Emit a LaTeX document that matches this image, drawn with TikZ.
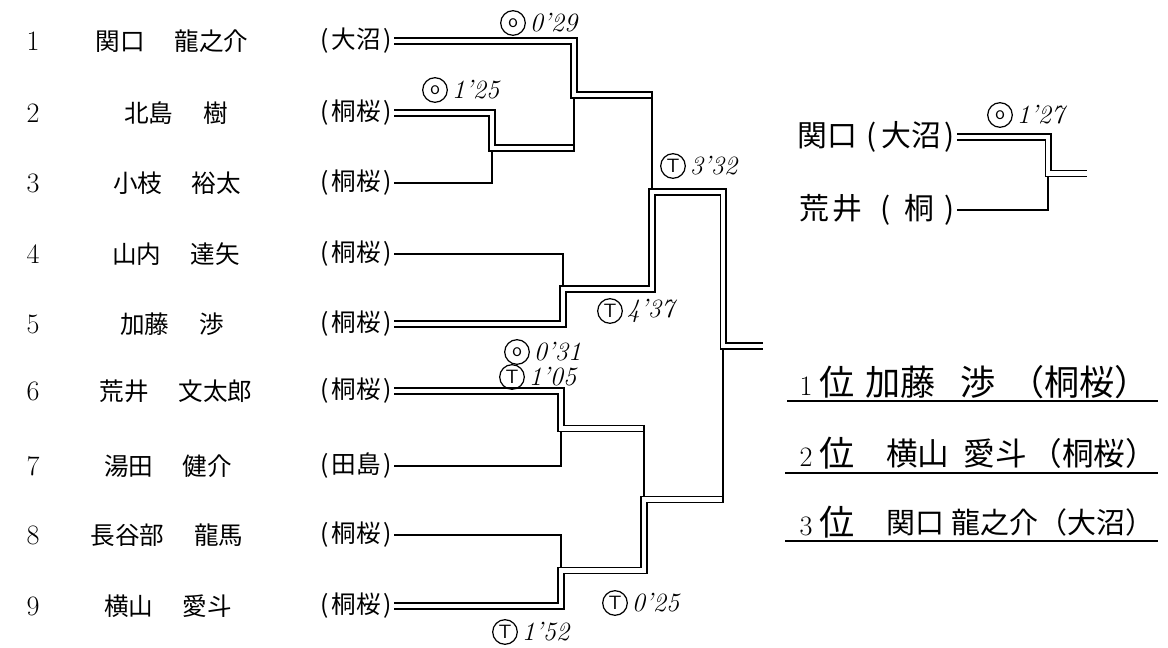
\documentclass[tikz,border=0pt]{standalone}
\usepackage{fontspec}
\newfontfamily\jp{Noto Sans CJK JP}
\usetikzlibrary{positioning}

\newcommand{\club}[1]{(\kern1.5pt#1\kern1.5pt)}
\newcommand{\namegap}{\hspace{1.2em}}

\begin{document}
\begin{tikzpicture}
  [x=0.02cm, y=-0.02cm,
   num/.style={inner sep=0pt, font=\fontsize{16}{18}\selectfont},
   player/.style={inner sep=0pt, font=\jp\fontsize{14}{17}\selectfont},
   club/.style={anchor=east, inner sep=1pt, font=\jp\fontsize{14}{17}\selectfont},
   lose/.style={line width=0.8pt},
   cont/.style={lose, shorten <=-2pt, shorten >=1.6pt},
   win/.style={double, double distance=2.6pt, line width=0.7pt},
   badge/.style={circle, draw, line width=0.7pt, minimum size=14pt, inner sep=0pt, font=\sffamily\fontsize{11}{12}\selectfont},
   clock/.style={right=2pt of #1, inner sep=0pt, font=\itshape\fontsize{15}{17}\selectfont},
   hand/.style={anchor=east, inner sep=1pt, font=\jp\fontsize{17}{20}\selectfont},
   rank/.style={anchor=east, inner sep=0pt, font=\jp\fontsize{20}{22}\selectfont},
   rankname/.style={anchor=west, inner sep=0pt, font=\jp\fontsize{#1}{22}\selectfont}]
  \useasboundingbox (0,0) rectangle (1168,648);

  % entry list
  \node[num] (n1) at (33,41) {1};
  \node[player] (p1) at (172,41) {関口\namegap 龍之介};
  \node[club] (c1) at (394,41) {\club{大沼}};
  \node[num] (n2) at (33,113) {2};
  \node[player] (p2) at (176,113) {北島\namegap 樹};
  \node[club] (c2) at (394,113) {\club{桐桜}};
  \node[num] (n3) at (33,183) {3};
  \node[player] (p3) at (177,183) {小枝\namegap 裕太};
  \node[club] (c3) at (394,183) {\club{桐桜}};
  \node[num] (n4) at (33,254) {4};
  \node[player] (p4) at (176,254) {山内\namegap 達矢};
  \node[club] (c4) at (394,254) {\club{桐桜}};
  \node[num] (n5) at (33,324) {5};
  \node[player] (p5) at (172,324) {加藤\namegap 渉};
  \node[club] (c5) at (394,324) {\club{桐桜}};
  \node[num] (n6) at (33,391) {6};
  \node[player] (p6) at (176,391) {荒井\namegap 文太郎};
  \node[club] (c6) at (394,391) {\club{桐桜}};
  \node[num] (n7) at (33,466) {7};
  \node[player] (p7) at (168,466) {湯田\namegap 健介};
  \node[club] (c7) at (394,466) {\club{田島}};
  \node[num] (n8) at (33,535) {8};
  \node[player] (p8) at (167,535) {長谷部\namegap 龍馬};
  \node[club] (c8) at (394,535) {\club{桐桜}};
  \node[num] (n9) at (33,606) {9};
  \node[player] (p9) at (168,606) {横山\namegap 愛斗};
  \node[club] (c9) at (394,606) {\club{桐桜}};

  % match points
  \coordinate (A) at (492,148);
  \coordinate (B) at (574,95);
  \coordinate (C) at (563,289);
  \coordinate (D) at (652,192);
  \coordinate (E) at (561,428.5);
  \coordinate (F) at (561,570.5);
  \coordinate (G) at (644,499.5);
  \coordinate (H) at (723,346);
  \coordinate (W) at (763,346);

  \draw[lose] (c3.east) -| (A);
  \draw[lose] (c4.east) -| (C);
  \draw[lose] (c7.east) -| (E);
  \draw[lose] (c8.east) -| (F);

  \draw[win] (c2.east) -| (A) -- (A -| B);
  \draw[win] (c1.east) -| (B) -- (B -| D);
  \draw[win] (c5.east) -| (C) -| (D) -| (H) -- (W);
  \draw[win] (c6.east) -| (E) -- (E -| G);
  \draw[win] (c9.east) -| (F) -| (G) -- (G -| H);

  \draw[cont] (A -| B) -- (B);
  \draw[cont] (B -| D) -- (D);
  \draw[cont] (E -| G) -- (G);
  \draw[cont] (G -| H) -- (H);

  % results
  \node[badge] (o1) at (513,23) {o};
  \node[clock=o1] (s1) {0'29};
  \node[badge] (o2) at (435,90) {o};
  \node[clock=o2] (s2) {1'25};
  \node[badge] (o3) at (673,166) {T};
  \node[clock=o3] (s3) {3'32};
  \node[badge] (o4) at (610,311) {T};
  \node[clock=o4] (s4) {4'37};
  \node[badge] (o5) at (517,352) {o};
  \node[clock=o5] (s5) {0'31};
  \node[badge] (o6) at (512,377) {T};
  \node[clock=o6] (s6) {1'05};
  \node[badge] (o7) at (615,603) {T};
  \node[clock=o7] (s7) {0'25};
  \node[badge] (o8) at (505,632) {T};
  \node[clock=o8] (s8) {1'52};

  % third place
  \node[hand] (t1) at (957,137) {関口\hspace{5pt}(\hspace{3pt}大沼\hspace{2pt})};
  \node[hand] (t2) at (957,210) {荒\hspace{2pt}井\hspace{10pt}(\hspace{8pt}桐\hspace{6pt})};
  \coordinate (T) at (1048,173.5);
  \coordinate (W3) at (1087,173.5);
  \draw[lose] (t2.east) -| (T);
  \draw[win] (t1.east) -| (T) -- (W3);
  \node[badge] (o9) at (1000,115) {o};
  \node[clock=o9] (s9) {1'27};

  % ranking
  \node[rank] (r1) at (855,382) {{\normalfont\fontsize{16}{18}\selectfont 1}\hspace{4pt}位};
  \node[rankname=20] (w1) at (865,382) {加藤\hspace{14pt}渉\hspace{8pt}（桐桜）};
  \node[rank] (r2) at (855,453) {{\normalfont\fontsize{16}{18}\selectfont 2}\hspace{4pt}位};
  \node[rankname=18] (w2) at (886,453) {横山\hspace{8pt}愛斗\hspace{2pt}（桐桜）};
  \node[rank] (r3) at (855,522) {{\normalfont\fontsize{16}{18}\selectfont 3}\hspace{4pt}位};
  \node[rankname=16.5] (w3) at (886,522) {関口\hspace{4pt}龍之介（大沼）};
  \draw[line width=1pt] (787,401) -- (1158,401);
  \draw[line width=1pt] (785,473) -- (1158,473);
  \draw[line width=1pt] (785,541) -- (1158,541);
\end{tikzpicture}
\end{document}
